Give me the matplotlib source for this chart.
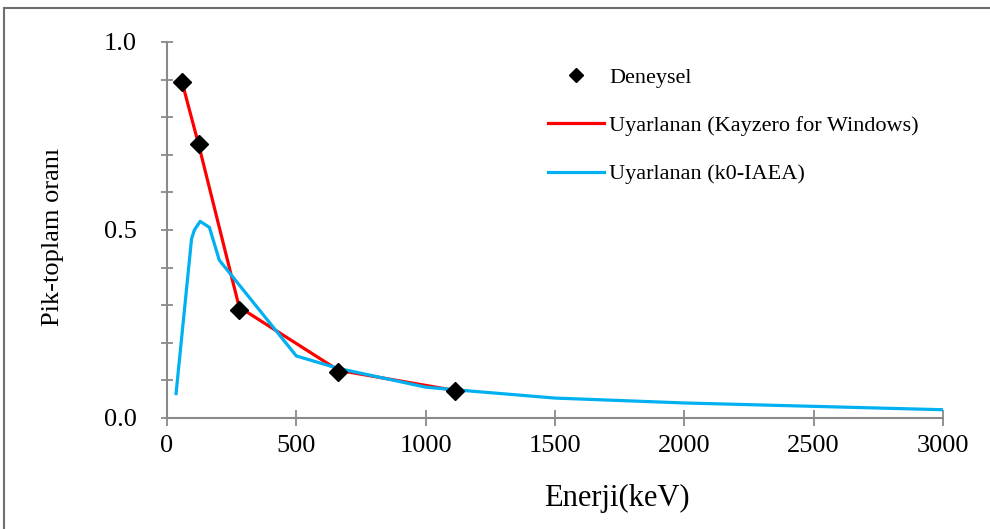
import matplotlib
matplotlib.use('Agg')
import matplotlib.pyplot as plt
from matplotlib.patches import Rectangle
from matplotlib.ticker import MultipleLocator

# Deneysel (experimental) points
enerji_deney = [59.5, 122, 279, 662, 1115]
oran_deney = [0.893, 0.728, 0.288, 0.123, 0.071]

# Kayzero for Windows
enerji_kay = [59.5, 122, 279, 662, 1115]
oran_kay = [0.890, 0.728, 0.295, 0.127, 0.073]

# k0-IAEA
enerji_iaea = [35, 95, 106, 128, 164, 202, 500, 662, 1000, 1115, 1500, 2000, 2500, 3000]
oran_iaea = [0.065, 0.477, 0.500, 0.523, 0.507, 0.420, 0.165, 0.132, 0.082, 0.075,
             0.053, 0.040, 0.031, 0.022]

plt.rcParams['font.family'] = ['Liberation Serif', 'DejaVu Serif']
gray = '#8a8a8a'

fig = plt.figure(figsize=(9.9, 5.29), dpi=100)
# outer frame
fig.patches.append(Rectangle((4 / 990, -0.1), 1.2, 1 - 8 / 529 + 0.1, transform=fig.transFigure,
                             fill=False, edgecolor='#6e6e6e', linewidth=1.5))

ax = fig.add_axes([167 / 990, 1 - 418 / 529, 776 / 990, 376 / 529])

ax.plot(enerji_kay, oran_kay, color='#ff0000', linewidth=2.3, label='Uyarlanan (Kayzero for Windows)', zorder=2)
ax.plot(enerji_iaea, oran_iaea, color='#00b0f0', linewidth=2.3, label='Uyarlanan (k0-IAEA)', zorder=3)
ax.plot(enerji_deney, oran_deney, linestyle='none', marker='D', markersize=9, color='black',
        label='Deneysel', zorder=4)

ax.set_xlim(0, 3000)
ax.set_ylim(0, 1.0)
ax.xaxis.set_major_locator(MultipleLocator(500))
ax.yaxis.set_major_locator(MultipleLocator(0.5))
ax.yaxis.set_minor_locator(MultipleLocator(0.1))
ax.yaxis.set_major_formatter(matplotlib.ticker.FormatStrFormatter('%.1f'))

for s in ['top', 'right']:
    ax.spines[s].set_visible(False)
for s in ['left', 'bottom']:
    ax.spines[s].set_color(gray)
    ax.spines[s].set_linewidth(1.5)

ax.tick_params(axis='both', which='both', direction='inout', color=gray, width=1.3, labelsize=19)
ax.tick_params(axis='y', which='both', length=9, pad=17)
ax.tick_params(axis='x', which='major', length=11, pad=7)

ax.set_xlabel('Enerji(keV)', fontsize=22)
ax.set_ylabel('Pik-toplam oranı', fontsize=19)
ax.xaxis.set_label_coords((617 - 167) / 776, (418 - 484) / 376)
ax.yaxis.set_label_coords((64 - 167) / 776, (418 - 237) / 376)

h, l = ax.get_legend_handles_labels()
order = [2, 0, 1]
ax.legend([h[i] for i in order], [l[i] for i in order], loc='upper left',
          bbox_to_anchor=(537 / 990, 1 - 56 / 529), bbox_transform=fig.transFigure,
          frameon=False, fontsize=16, handlelength=2.5, handletextpad=0.25,
          labelspacing=1.25, borderpad=0, markerscale=0.75)

fig.savefig('out.png', dpi=100)
